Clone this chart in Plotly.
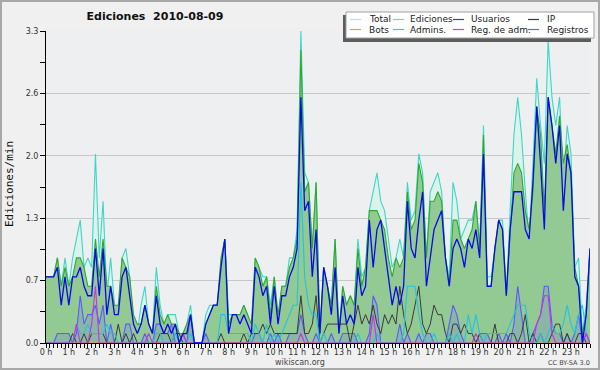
import plotly.graph_objects as go

# 10-minute bins (144 per day), values in edits/min
total = [0.7,0.7,0.7,0.9,0.6,0.9,0.6,0.9,1.1,1.3,
         0.8,0.9,0.8,2.0,0.9,1.5,0.5,0.9,0.4,0.3,
         0.9,1.0,0.7,0.2,0.1,0.4,0.6,0.2,0.1,0.8,
         0.4,0.2,0.3,0.3,0.3,0.1,0.1,0.2,0.4,0.0,
         0.0,0.0,0.3,0.4,0.4,0.4,0.8,1.1,0.3,0.3,
         0.3,0.3,0.4,0.3,0.1,0.9,0.8,0.7,0.7,0.4,
         0.7,0.2,0.6,0.6,0.9,0.9,1.2,3.3,1.8,1.7,
         1.0,1.7,0.1,0.8,0.6,0.4,1.1,0.1,0.6,0.4,
         0.5,0.4,1.1,0.7,0.8,1.4,1.6,1.8,1.5,1.4,
         1.1,0.8,0.9,1.1,0.9,1.7,1.3,1.4,2.0,1.8,
         0.9,1.6,1.7,1.8,1.6,0.9,0.7,1.7,1.5,1.1,
         1.2,1.3,1.3,1.5,1.0,2.3,0.7,0.7,1.0,1.3,
         1.3,0.5,1.4,2.2,2.6,2.2,1.6,1.1,1.9,2.8,
         2.3,1.9,3.2,2.6,2.3,2.6,1.7,2.3,2.0,0.8,
         0.9,0.1,0.4,1.0]
ediciones = [0.7,0.7,0.7,0.9,0.6,0.8,0.6,0.7,0.9,0.9,
             0.8,0.6,0.6,1.1,0.7,1.1,0.6,0.6,0.4,0.4,
             0.9,0.8,0.7,0.3,0.2,0.2,0.4,0.2,0.1,0.6,
             0.3,0.2,0.3,0.2,0.2,0.1,0.1,0.2,0.3,0.0,
             0.0,0.0,0.2,0.3,0.4,0.4,0.9,1.1,0.2,0.3,
             0.3,0.3,0.4,0.3,0.2,0.9,0.8,0.6,0.7,0.3,
             0.7,0.3,0.6,0.6,0.8,0.9,1.1,3.1,1.6,1.7,
             1.0,1.7,0.1,0.8,0.6,0.4,1.1,0.1,0.6,0.4,
             0.5,0.4,1.0,0.6,0.8,1.4,1.4,1.4,1.3,1.2,
             0.9,0.7,0.9,0.8,0.9,1.6,1.2,1.3,1.9,1.7,
             0.9,1.5,1.5,1.6,1.5,0.9,0.6,1.3,1.3,1.1,
             1.0,1.1,1.2,1.5,1.0,2.2,0.6,0.6,1.0,1.3,
             1.2,0.5,1.2,1.8,1.9,1.8,1.4,1.2,1.6,2.5,
             2.2,1.4,2.6,2.3,2.0,2.4,1.9,2.1,1.8,0.8,
             0.6,0.1,0.3,1.0]
usuarios = [0.7,0.7,0.7,0.8,0.4,0.7,0.4,0.7,0.7,0.8,
            0.6,0.5,0.5,1.0,0.5,1.0,0.3,0.6,0.3,0.3,
            0.7,0.8,0.5,0.2,0.1,0.2,0.4,0.2,0.1,0.5,
            0.2,0.1,0.2,0.1,0.2,0.0,0.1,0.1,0.3,0.0,
            0.0,0.0,0.2,0.3,0.4,0.4,0.8,1.1,0.1,0.3,
            0.3,0.2,0.3,0.2,0.1,0.8,0.7,0.5,0.6,0.2,
            0.6,0.2,0.5,0.5,0.7,0.8,1.0,2.6,1.4,1.5,
            0.7,1.2,0.1,0.8,0.6,0.3,0.8,0.1,0.5,0.2,
            0.3,0.2,0.8,0.5,0.6,1.3,0.8,1.2,1.3,1.0,
            0.7,0.4,0.6,0.4,0.6,1.5,1.0,0.9,1.3,1.6,
            0.6,0.9,1.2,1.3,1.4,0.9,0.6,1.0,1.1,1.0,
            0.8,1.1,1.0,1.2,0.9,2.0,0.6,0.6,1.0,1.3,
            1.2,0.5,1.2,1.6,1.6,1.6,1.2,1.1,1.7,2.5,
            1.9,1.2,2.6,2.3,1.9,2.3,1.4,2.0,1.8,0.7,
            0.6,0.0,0.3,1.0]
ip = [0,0,0,0,0,0,0,0.1,0,0,
      0.1,0,0.1,0.1,0.1,0.1,0,0,0,0.2,
      0,0.1,0,0.1,0,0,0,0,0,0,
      0.1,0.1,0.1,0,0.1,0.1,0,0,0,0,
      0,0,0,0,0,0,0.1,0,0,0,
      0,0,0.1,0,0.1,0.1,0.1,0.2,0.1,0.2,
      0.1,0.1,0.1,0.1,0.1,0.1,0.1,0.5,0.1,0.1,
      0.2,0.5,0,0.1,0.2,0.2,0.2,0.2,0.2,0.2,
      0,0.2,0.4,0.2,0.3,0.2,0.4,0.2,0.1,0.3,
      0.2,0.3,0.2,0.6,0.3,0.1,0.2,0.4,0.6,0.2,
      0.1,0.2,0.4,0.3,0.3,0.1,0,0.2,0.2,0.1,
      0.2,0.1,0.1,0,0.1,0,0,0,0.2,0,
      0,0,0.1,0.1,0,0.1,0.3,0,0.1,0,
      0.1,0,0,0.1,0.2,0.2,0,0.1,0,0,
      0.1,0.1,0,0]
bots = [0] * 144
admins = [0,0,0,0,0,0,0,0,0.2,0.1,
          0.1,0.2,0.1,0.1,0.1,0.1,0.2,0.1,0.1,0,
          0,0,0,0,0,0,0,0,0,0.1,
          0.1,0,0,0,0.1,0,0,0,0.1,0,
          0,0,0,0,0,0,0.3,0.3,0.1,0.1,
          0.1,0.1,0.1,0.1,0,0.2,0.1,0,0.2,0,
          0.1,0,0.1,0.2,0.3,0.4,0.4,1.7,0.7,0.4,
          0.3,0.3,0,0.1,0,0,0,0,0,0,
          0,0,0.1,0,0,0,0,0.1,0,0,
          0,0,0,0,0.1,0.6,0.6,0.6,0.3,0.1,
          0,0,0.1,0,0,0,0.1,0,0.1,0,
          0,0.3,0.1,0.3,0.1,0,0.1,0.1,0.1,0.1,
          0.1,0.1,0.2,0.3,0.4,0.4,0.4,0.1,0,0,
          0.1,0,0.1,0.2,0.1,0.1,0.2,0.4,0.2,0.1,
          0.3,0.4,0.1,0]
reg_adm = [0,0,0,0,0,0,0,0,0.2,0,
           0,0,0.2,0.6,0,0,0,0,0,0,
           0,0,0,0,0,0,0,0.1,0,0,
           0,0,0,0,0,0,0.1,0,0,0,
           0,0,0,0,0,0,0,0,0,0,
           0,0,0,0,0,0,0,0,0,0,
           0,0,0,0,0,0,0,0.1,0,0,
           0,0,0,0,0,0,0,0,0,0,
           0,0,0,0,0,0,0.3,0,0,0,
           0,0,0,0,0,0,0,0,0,0,
           0,0,0,0,0,0,0,0,0,0,
           0,0,0,0.1,0,0,0,0,0,0,
           0,0,0,0,0,0,0,0,0,0.2,
           0.3,0.5,0.5,0.1,0,0,0,0,0,0,
           0,0,0.1,0]
registros = [0,0,0,0.1,0.1,0.1,0.1,0,0.1,0.5,
             0.2,0.3,0.3,0.4,0.2,0.4,0,0.2,0,0,
             0,0.2,0.2,0,0,0,0.1,0,0,0.2,
             0.2,0.1,0.1,0.2,0,0,0.1,0,0.3,0,
             0,0,0.1,0,0,0,0,0,0,0,
             0,0,0,0,0,0.1,0.1,0,0,0.1,
             0,0.1,0,0,0.1,0.1,0.1,0.3,0.1,0,
             0,0.1,0,0,0,0.1,0,0,0.1,0.1,
             0.1,0.1,0,0,0,0.1,0.5,0.4,0,0,
             0,0,0,0.2,0,0.1,0,0,0.1,0,
             0.1,0.1,0,0,0,0,0.2,0.4,0.3,0.1,
             0,0,0,0,0.1,0.1,0.1,0,0,0.1,
             0,0.1,0,0.2,0.6,0.3,0,0,0.1,0.2,
             0.3,0.6,0.6,0.2,0.1,0.1,0,0.1,0,0.1,
             0.3,0,0.1,0]

hours = [i / 6 for i in range(144)]
hour_ticks = list(range(24))
hour_labels = [f"{h} h" for h in hour_ticks]
y_ticks = [0, 0.66, 1.32, 1.98, 2.64, 3.3]
y_labels = ["0.0", "0.7", "1.3", "2.0", "2.6", "3.3"]
y_minor = [0.33, 0.99, 1.65, 2.31, 2.97]

L, R, T, B = 46, 10, 31, 27
W, H = 600, 370
PW, PH = W - L - R, H - T - B

def px(x):
    return (x - L) / PW

def py(y):
    return (H - B - y) / PH

fig = go.Figure()
fig.add_trace(go.Scatter(x=hours, y=total, mode="lines", fill="tozeroy",
                         fillcolor="rgb(220,243,236)", line=dict(color="#3fd6c6", width=1.1)))
fig.add_trace(go.Scatter(x=hours, y=ediciones, mode="lines", fill="tozeroy",
                         fillcolor="rgb(147,201,147)", line=dict(color="#2fa82f", width=1.1)))
fig.add_trace(go.Scatter(x=hours, y=registros, mode="lines", fill="tozeroy",
                         fillcolor="rgba(100,100,255,0.18)", line=dict(color="#5a5aff", width=1.1)))
fig.add_trace(go.Scatter(x=hours, y=ip, mode="lines", line=dict(color="#3a3a3a", width=1)))
fig.add_trace(go.Scatter(x=hours, y=bots, mode="lines", line=dict(color="#f0a030", width=1)))
fig.add_trace(go.Scatter(x=hours, y=admins, mode="lines", line=dict(color="#22c4e0", width=1.1)))
fig.add_trace(go.Scatter(x=hours, y=reg_adm, mode="lines", line=dict(color="#cc33dd", width=1.1)))
fig.add_trace(go.Scatter(x=hours, y=usuarios, mode="lines", line=dict(color="#0a0ae6", width=1.3)))

shapes = []
annotations = []
# border of the image
shapes.append(dict(type="rect", xref="paper", yref="paper", x0=px(1), x1=px(599), y0=py(369), y1=py(1),
                   line=dict(color="#a8a8a8", width=2), fillcolor="rgba(0,0,0,0)", layer="above"))
# legend shadow and box
shapes.append(dict(type="rect", xref="paper", yref="paper", x0=px(343), x1=px(591), y0=py(42), y1=py(15),
                   line=dict(width=0), fillcolor="#5c5c5c", layer="above"))
shapes.append(dict(type="rect", xref="paper", yref="paper", x0=px(346), x1=px(594), y0=py(38), y1=py(12),
                   line=dict(color="#a0a0a0", width=1), fillcolor="white", layer="above"))
legend_items = [
    ("Total", "#aee8e2", 350, 367, 19.5),
    ("Ediciones", "#8fd08f", 393, 408, 19.5),
    ("Usuarios", "#3a3ad6", 453, 469, 19.5),
    ("IP", "#3a3a3a", 528, 545, 19.5),
    ("Bots", "#f0a030", 350, 367, 29.5),
    ("Admins.", "#40c8e0", 393, 408, 29.5),
    ("Reg. de adm.", "#d040d8", 453, 469, 29.5),
    ("Registros", "#6464f0", 528, 545, 29.5),
]
for name, col, lx, tx, ly in legend_items:
    shapes.append(dict(type="line", xref="paper", yref="paper", x0=px(lx), x1=px(lx + 11),
                       y0=py(ly), y1=py(ly), line=dict(color=col, width=1.2), layer="above"))
    annotations.append(dict(text=name, xref="paper", yref="paper", x=px(tx), y=py(ly),
                            xanchor="left", yanchor="middle", showarrow=False,
                            font=dict(family="DejaVu Sans", size=9, color="#222")))

annotations.append(dict(text="Ediciones/min", xref="paper", yref="paper", x=px(9), y=py(184),
                        xanchor="center", yanchor="middle", textangle=-90, showarrow=False,
                        font=dict(family="DejaVu Sans Mono", size=11, color="#111")))
annotations.append(dict(text="wikiscan.org", xref="paper", yref="paper", x=px(300), y=py(362),
                        xanchor="center", yanchor="middle", showarrow=False,
                        font=dict(family="DejaVu Sans", size=8, color="#444")))
annotations.append(dict(text="CC BY-SA 3.0", xref="paper", yref="paper", x=px(569), y=py(363),
                        xanchor="center", yanchor="middle", showarrow=False,
                        font=dict(family="DejaVu Sans", size=6.5, color="#444")))

fig.update_layout(
    width=W, height=H, autosize=False,
    margin=dict(l=L, r=R, t=T, b=B, pad=0),
    paper_bgcolor="#f0f0f0", plot_bgcolor="#eeeff1",
    showlegend=False,
    title=dict(text="Ediciones\u00a0 2010-08-09", xref="container", yref="container",
               x=155 / W, y=1 - 16 / H, xanchor="center", yanchor="middle",
               font=dict(family="DejaVu Sans", size=11, color="#111", weight="bold")),
    shapes=shapes, annotations=annotations,
    xaxis=dict(range=[0, 143 / 6], tickmode="array", tickvals=hour_ticks, ticktext=hour_labels,
               showgrid=False, zeroline=False, showline=True, linecolor="black", linewidth=1,
               ticks="outside", ticklen=4, tickwidth=1, tickcolor="black",
               ticklabelstandoff=-3,
               tickfont=dict(family="DejaVu Sans", size=8, color="#333"),
               minor=dict(tick0=0, dtick=1 / 6, ticks="outside", ticklen=4, tickwidth=1,
                          tickcolor="black", showgrid=False)),
    yaxis=dict(range=[0, 3.3], tickmode="array", tickvals=y_ticks, ticktext=y_labels,
               showgrid=True, gridcolor="#c8c8c8", gridwidth=1, zeroline=False,
               showline=True, linecolor="black", linewidth=1,
               ticks="outside", ticklen=5, tickwidth=1, tickcolor="black",
               tickfont=dict(family="DejaVu Sans", size=8, color="#333"),
               minor=dict(tickvals=y_minor, ticks="outside", ticklen=5, tickwidth=1,
                          tickcolor="black", showgrid=False)),
)

fig.write_html("out.html", config={"displayModeBar": False},
               post_script="document.body.style.margin='0px';document.body.style.padding='0px';")
